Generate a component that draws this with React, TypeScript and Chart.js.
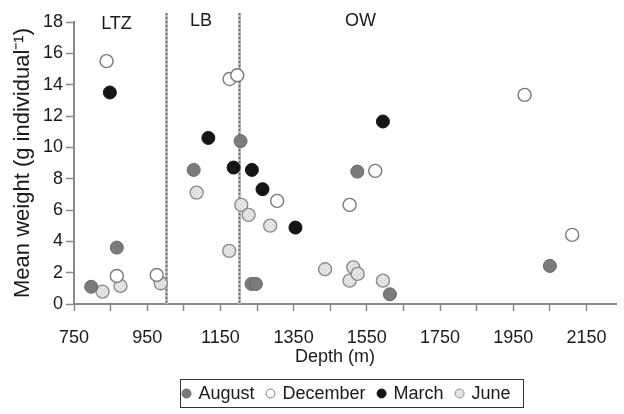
import { useEffect, useRef } from 'react';
import { Chart, registerables } from 'chart.js';

Chart.register(...registerables);

// ---------- data ----------
const seasons = ['August', 'December', 'March', 'June'];

const augustDepth = [797, 867, 1077, 1205, 1235, 1247, 1524, 1613, 2050];
const augustWeight = [1.1, 3.6, 8.56, 10.4, 1.28, 1.28, 8.45, 0.62, 2.43];

const decemberDepth = [839, 867, 976, 1175, 1196, 1305, 1503, 1573, 1981, 2111];
const decemberWeight = [15.5, 1.79, 1.85, 14.36, 14.6, 6.58, 6.33, 8.5, 13.35, 4.41];

const marchDepth = [848, 1117, 1186, 1236, 1265, 1355, 1594];
const marchWeight = [13.5, 10.6, 8.71, 8.56, 7.33, 4.88, 11.65];

const juneDepth = [828, 877, 987, 1085, 1174, 1207, 1227, 1286, 1436, 1513, 1503, 1525, 1594];
const juneWeight = [0.79, 1.15, 1.32, 7.11, 3.39, 6.33, 5.69, 5.0, 2.22, 2.34, 1.49, 1.92, 1.49];

const xTickValues = [750, 850, 950, 1050, 1150, 1250, 1350, 1450, 1550, 1650, 1750, 1850, 1950, 2050, 2150];
const xTickLabels = [750, 950, 1150, 1350, 1550, 1750, 1950, 2150];
const yTickValues = [0, 2, 4, 6, 8, 10, 12, 14, 16, 18];

const zoneBoundaries = [1000, 1200];
const zoneNames = ['LTZ', 'LB', 'OW'];
const zoneNameDepths = [866, 1097, 1533];
const zoneNameWeights = [17.85, 18.07, 18.07];

const xTitle = 'Depth (m)';
const xTitleCenterDepth = 1463;
const yTitle = 'Mean weight (g individual\u207B\u00B9)';

const X_MIN = 750;
const X_MAX = 2231;
const Y_MIN = 0;
const Y_MAX = 18;

const FONT = "'Liberation Sans', Arial, Helvetica, sans-serif";
const TEXT = '#1a1a1a';
const AXIS = '#8a8a8a';

function zip(xs: number[], ys: number[]) {
  return xs.map((x, i) => ({ x, y: ys[i] }));
}

function makeJunePattern(): CanvasPattern | string {
  const c = document.createElement('canvas');
  c.width = 4;
  c.height = 4;
  const g = c.getContext('2d');
  if (!g) return '#dddddd';
  g.fillStyle = '#e6e6e6';
  g.fillRect(0, 0, 4, 4);
  g.fillStyle = '#c4c4c4';
  g.fillRect(0, 0, 1, 1);
  g.fillRect(2, 2, 1, 1);
  const p = g.createPattern(c, 'repeat');
  return p || '#dddddd';
}

export default function App() {
  const canvasRef = useRef<HTMLCanvasElement | null>(null);

  useEffect(() => {
    const canvas = canvasRef.current;
    if (!canvas) return;
    const junePattern = makeJunePattern();

    const styles = [
      { bg: '#7b7b7b', border: '#666666', bw: 1 },
      { bg: '#ffffff', border: '#7a7a7a', bw: 1.4 },
      { bg: '#151515', border: '#151515', bw: 1 },
      { bg: junePattern, border: '#8c8c8c', bw: 1.4 },
    ];
    const seriesData = [
      zip(augustDepth, augustWeight),
      zip(decemberDepth, decemberWeight),
      zip(marchDepth, marchWeight),
      zip(juneDepth, juneWeight),
    ];

    const zonesPlugin = {
      id: 'zones',
      beforeDatasetsDraw(chart: any) {
        const { ctx, chartArea, scales } = chart;
        const xs = scales.x;
        const ys = scales.y;
        ctx.save();
        zoneBoundaries.forEach((b) => {
          const px = Math.round(xs.getPixelForValue(b)) + 0.5;
          ctx.beginPath();
          ctx.moveTo(px, chartArea.top - 9);
          ctx.lineTo(px, chartArea.bottom);
          ctx.strokeStyle = '#bdbdbd';
          ctx.lineWidth = 3;
          ctx.setLineDash([]);
          ctx.stroke();
          ctx.beginPath();
          ctx.moveTo(px, chartArea.top - 9);
          ctx.lineTo(px, chartArea.bottom);
          ctx.strokeStyle = '#6f6f6f';
          ctx.lineWidth = 1.5;
          ctx.setLineDash([2, 2]);
          ctx.stroke();
        });
        ctx.setLineDash([]);
        ctx.fillStyle = TEXT;
        ctx.font = `18px ${FONT}`;
        ctx.textAlign = 'center';
        ctx.textBaseline = 'middle';
        zoneNames.forEach((n, i) => {
          ctx.fillText(n, xs.getPixelForValue(zoneNameDepths[i]), ys.getPixelForValue(zoneNameWeights[i]));
        });
        ctx.restore();
      },
    };

    const legendPlugin = {
      id: 'boxLegend',
      afterDraw(chart: any) {
        const ctx = chart.ctx;
        const xs = chart.scales.x;
        ctx.save();
        // x axis title
        ctx.fillStyle = TEXT;
        ctx.font = `18px ${FONT}`;
        ctx.textAlign = 'center';
        ctx.textBaseline = 'middle';
        ctx.fillText(xTitle, xs.getPixelForValue(xTitleCenterDepth), 357);

        // legend box
        const boxL = 180.5;
        const boxR = 523.5;
        const boxT = 379.5;
        const boxB = 407.5;
        ctx.strokeStyle = '#333333';
        ctx.lineWidth = 1;
        ctx.strokeRect(boxL, boxT, boxR - boxL, boxB - boxT);
        ctx.textAlign = 'left';
        const r = 4.5;
        const gapMarkerText = 12;
        const gapItems = 16;
        const widths = seasons.map((s) => ctx.measureText(s).width);
        let x = boxL + 1.5 + r;
        const cy = (boxT + boxB) / 2;
        seasons.forEach((s, i) => {
          const st = styles[i];
          ctx.beginPath();
          ctx.arc(x, cy, r, 0, Math.PI * 2);
          ctx.fillStyle = st.bg as any;
          ctx.fill();
          ctx.lineWidth = 1;
          ctx.strokeStyle = st.border;
          ctx.stroke();
          ctx.fillStyle = TEXT;
          ctx.fillText(s, x + gapMarkerText, cy + 1);
          x += gapMarkerText + widths[i] + gapItems;
        });
        ctx.restore();
      },
    };

    const chart = new Chart(canvas, {
      type: 'scatter',
      data: {
        datasets: seasons.map((s, i) => ({
          label: s,
          data: seriesData[i],
          backgroundColor: styles[i].bg as any,
          borderColor: styles[i].border,
          borderWidth: styles[i].bw,
          pointRadius: 6.5,
          pointHoverRadius: 6.5,
        })),
      },
      options: {
        responsive: false,
        animation: false,
        devicePixelRatio: 1,
        layout: { padding: { top: 22, right: 0, bottom: 40, left: 0 } },
        plugins: {
          legend: { display: false },
          tooltip: { enabled: false },
        },
        scales: {
          x: {
            type: 'linear',
            min: X_MIN,
            max: X_MAX,
            afterBuildTicks: (scale: any) => {
              scale.ticks = xTickValues.map((v) => ({ value: v }));
            },
            afterFit: (scale: any) => {
              scale.height = 70;
            },
            border: { display: true, color: AXIS, width: 2 },
            grid: { drawOnChartArea: false, drawTicks: true, tickLength: 7, color: AXIS, tickWidth: 1.5 },
            ticks: {
              autoSkip: false,
              maxRotation: 0,
              padding: 16,
              color: TEXT,
              font: { family: FONT, size: 18 },
              callback: (v: any) => (xTickLabels.includes(Number(v)) ? String(v) : ''),
            },
            title: { display: false, text: xTitle },
          },
          y: {
            type: 'linear',
            min: Y_MIN,
            max: Y_MAX,
            afterBuildTicks: (scale: any) => {
              scale.ticks = yTickValues.map((v) => ({ value: v }));
            },
            afterFit: (scale: any) => {
              scale.width = 74;
            },
            border: { display: true, color: AXIS, width: 2 },
            grid: { drawOnChartArea: false, drawTicks: true, tickLength: 8, color: AXIS, tickWidth: 1.5 },
            ticks: {
              padding: 3,
              color: TEXT,
              font: { family: FONT, size: 18 },
            },
            title: {
              display: true,
              text: yTitle,
              color: TEXT,
              font: { family: FONT, size: 22 },
              padding: { top: 10, bottom: 0 },
            },
          },
        },
      },
      plugins: [zonesPlugin, legendPlugin],
    });

    return () => {
      chart.destroy();
    };
  }, []);

  return (
    <div style={{ position: 'fixed', left: 0, top: 0, width: 624, height: 414, background: '#ffffff' }}>
      <canvas ref={canvasRef} width={624} height={414} style={{ display: 'block' }} />
    </div>
  );
}
